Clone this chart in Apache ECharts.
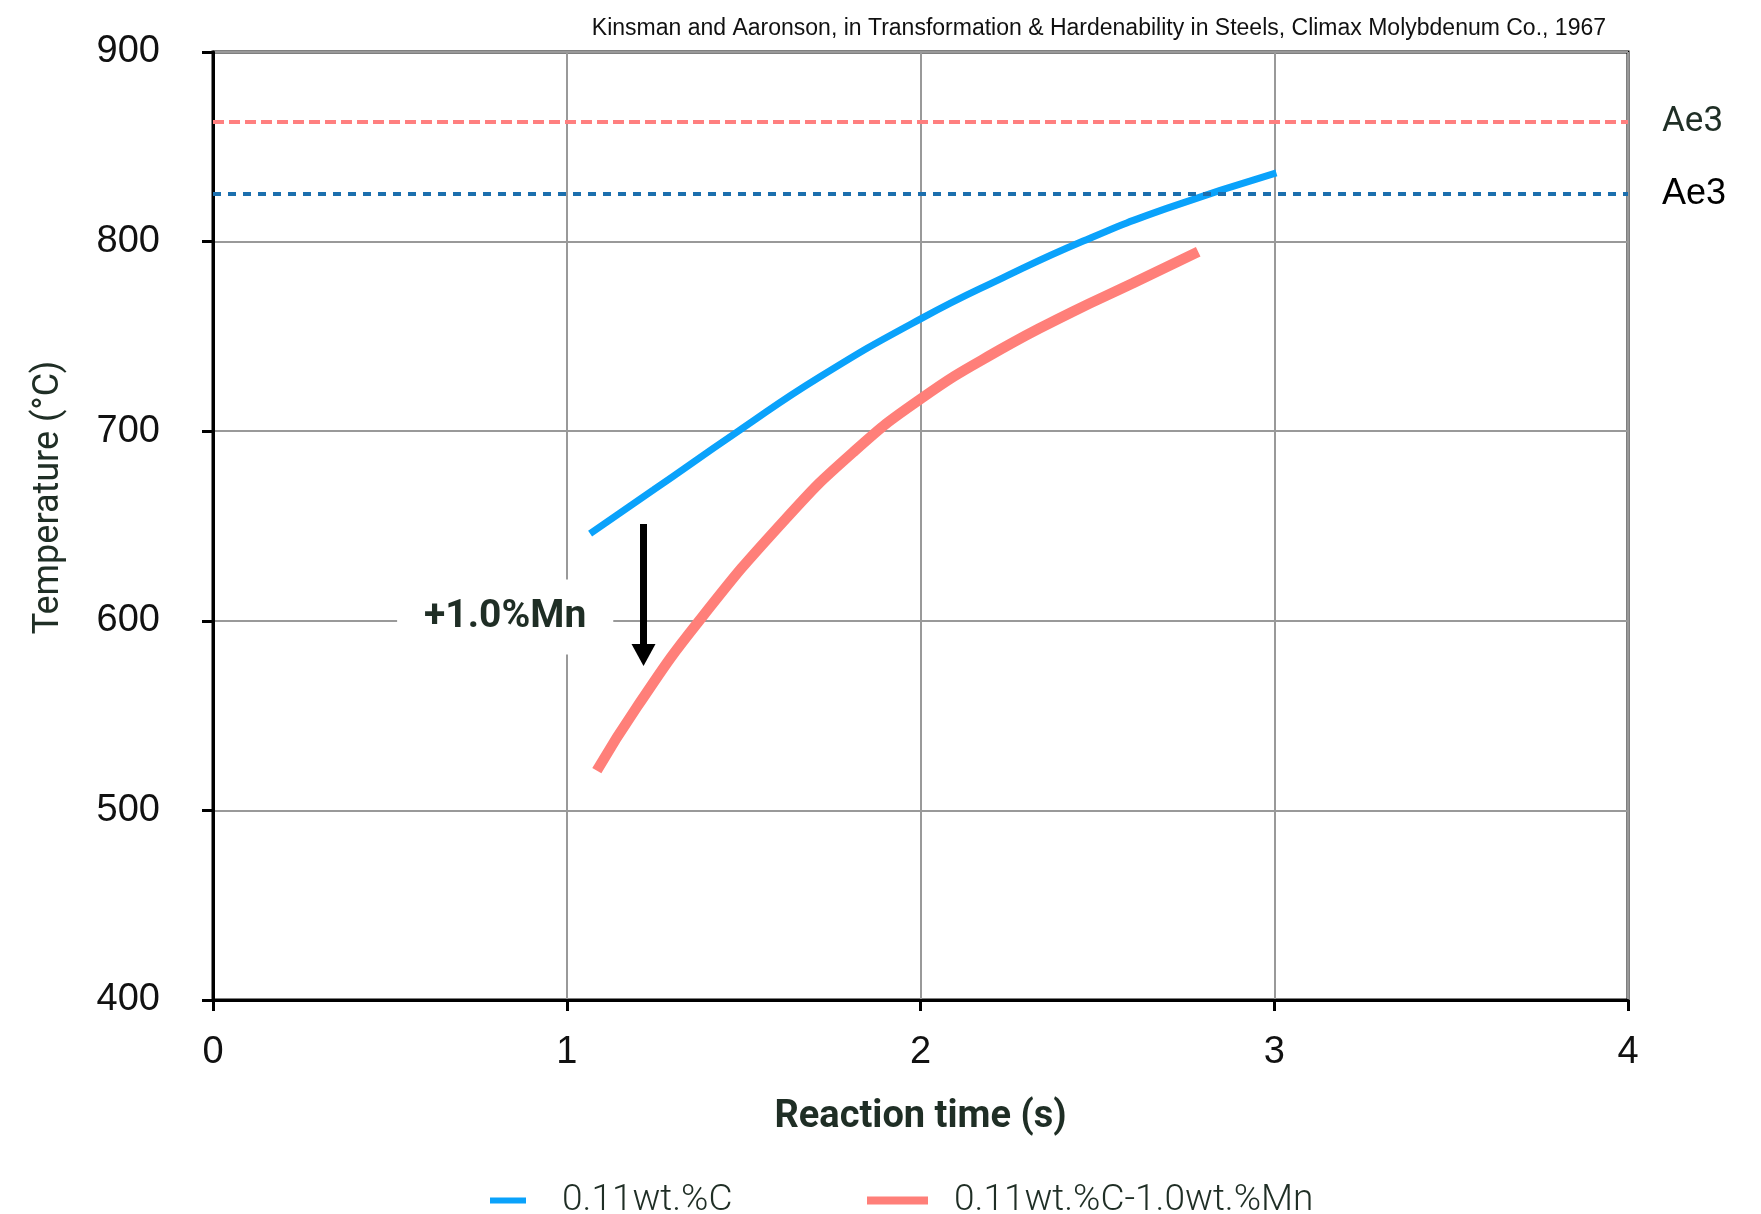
<!DOCTYPE html>
<html>
<head>
<meta charset="utf-8">
<title>Reaction time vs temperature</title>
<script src="https://cdn.jsdelivr.net/npm/echarts@6/dist/echarts.min.js"></script>
<style>
  html, body { margin: 0; padding: 0; background: #fff; }
  #chart { width: 1761px; height: 1214px; }
</style>
</head>
<body>
<div id="chart"></div>
<script>
// values
const xTicks = [0, 1, 2, 3, 4];
const yTicks = [400, 500, 600, 700, 800, 900];

const carbonTime = [1.066, 1.245, 1.481, 1.716, 2.003, 2.234, 2.46, 2.696, 3.006];
const carbonTemp = [646, 669, 699.5, 728.7, 759.5, 781, 800.3, 817.5, 836.3];

const manganeseTime = [1.085, 1.2, 1.37, 1.62, 1.81, 2.0, 2.225, 2.43, 2.6, 2.785];
const manganeseTemp = [521, 555, 599, 654, 689, 717, 743, 763, 778, 794.6];

const ae3Carbon = 825;
const ae3Manganese = 863;

const shiftArrowFrom = [1.217, 651];
const shiftArrowTo = [1.217, 582];
const shiftLabelAt = [0.826, 602];
const shiftLabel = '+1.0%Mn';

const seriesNames = ['0.11wt.%C', '0.11wt.%C-1.0wt.%Mn'];
const sourceNote = 'Kinsman and Aaronson, in Transformation & Hardenability in Steels, Climax Molybdenum Co., 1967';

const BLUE = '#0aa2fb';
const RED = '#ff7f79';
const DARK = '#1f2e25';

const zip = (xs, ys) => xs.map((x, i) => [x, ys[i]]);

const chart = echarts.init(document.getElementById('chart'));

chart.setOption({
  animation: false,
  backgroundColor: '#fff',
  title: {
    text: sourceNote,
    right: 150,
    top: 12,
    textStyle: { fontFamily: 'Liberation Sans', fontSize: 23, fontWeight: 'normal', color: '#111' }
  },
  legend: [
    {
      left: 485,
      top: 1177,
      data: [seriesNames[0]],
      icon: 'rect',
      itemWidth: 36,
      itemHeight: 6,
      textStyle: { fontFamily: 'Roboto', fontWeight: 300, fontSize: 37, color: DARK, padding: [0, 0, 0, 31] }
    },
    {
      left: 862,
      top: 1177,
      data: [seriesNames[1]],
      icon: 'rect',
      itemWidth: 61,
      itemHeight: 8,
      textStyle: { fontFamily: 'Roboto', fontWeight: 300, fontSize: 37, color: DARK, padding: [0, 0, 0, 21] }
    }
  ],
  grid: {
    left: 213,
    right: 133,
    top: 52,
    bottom: 214,
    show: true,
    borderColor: '#000',
    borderWidth: 3
  },
  xAxis: {
    type: 'value',
    min: xTicks[0],
    max: xTicks[xTicks.length - 1],
    interval: 1,
    name: 'Reaction time (s)',
    nameLocation: 'middle',
    nameGap: 98,
    nameTextStyle: { fontFamily: 'Roboto', fontWeight: 'bold', fontSize: 38, color: DARK },
    axisLine: { lineStyle: { color: '#000', width: 3 } },
    axisTick: { length: 11, lineStyle: { color: '#000', width: 3 } },
    axisLabel: { margin: 34, fontFamily: 'Liberation Sans', fontSize: 38, color: '#111' },
    splitLine: { lineStyle: { color: '#999', width: 2 } }
  },
  yAxis: {
    type: 'value',
    min: yTicks[0],
    max: yTicks[yTicks.length - 1],
    interval: 100,
    name: 'Temperature (°C)',
    nameLocation: 'middle',
    nameGap: 146,
    nameTextStyle: { fontFamily: 'Roboto', fontSize: 36, color: DARK, padding: [0, 0, 0, 57] },
    axisLine: { lineStyle: { color: '#000', width: 3 } },
    axisTick: { length: 11, lineStyle: { color: '#000', width: 3 } },
    axisLabel: { margin: 53, fontFamily: 'Liberation Sans', fontSize: 38, color: '#111' },
    splitLine: { lineStyle: { color: '#999', width: 2 } }
  },
  series: [
    {
      name: seriesNames[0],
      type: 'line',
      data: zip(carbonTime, carbonTemp),
      smooth: 0.5,
      showSymbol: false,
      z: 4,
      itemStyle: { color: BLUE },
      lineStyle: { color: BLUE, width: 7 },
      markLine: {
        silent: true,
        symbol: ['none', 'none'],
        data: [
          {
            yAxis: ae3Carbon,
            lineStyle: { color: '#1b6fae', width: 4, type: [8, 7] },
            label: {
              formatter: 'Ae3',
              position: 'end',
              distance: 34,
              fontFamily: 'Liberation Sans',
              fontSize: 36,
              color: '#000'
            }
          }
        ]
      }
    },
    {
      name: seriesNames[1],
      type: 'line',
      data: zip(manganeseTime, manganeseTemp),
      smooth: 0.5,
      showSymbol: false,
      z: 3,
      itemStyle: { color: RED },
      lineStyle: { color: RED, width: 10.5 },
      markLine: {
        silent: true,
        symbol: ['none', 'none'],
        data: [
          {
            yAxis: ae3Manganese,
            lineStyle: { color: '#ff7f7f', width: 4, type: [11, 5] },
            label: {
              formatter: 'Ae3',
              position: 'end',
              distance: 34,
              fontFamily: 'Roboto',
              fontSize: 35,
              color: DARK,
              textBorderColor: '#fff',
              textBorderWidth: 3
            }
          }
        ]
      }
    },
    {
      // annotation: arrow and label for the Mn shift
      type: 'line',
      data: [],
      z: 5,
      markLine: {
        silent: true,
        symbol: ['none', 'triangle'],
        symbolSize: [24, 22],
        label: { show: false },
        lineStyle: { color: '#000', width: 7, type: 'solid' },
        data: [[{ coord: shiftArrowFrom }, { coord: shiftArrowTo }]]
      },
      markPoint: {
        silent: true,
        symbol: 'rect',
        symbolSize: 1,
        itemStyle: { color: 'rgba(0,0,0,0)' },
        label: {
          show: true,
          position: 'inside',
          formatter: shiftLabel,
          fontFamily: 'Roboto',
          fontWeight: 'bold',
          fontSize: 39,
          color: DARK,
          backgroundColor: '#fff',
          padding: [18, 27]
        },
        data: [{ coord: shiftLabelAt }]
      }
    }
  ]
});
</script>
</body>
</html>
